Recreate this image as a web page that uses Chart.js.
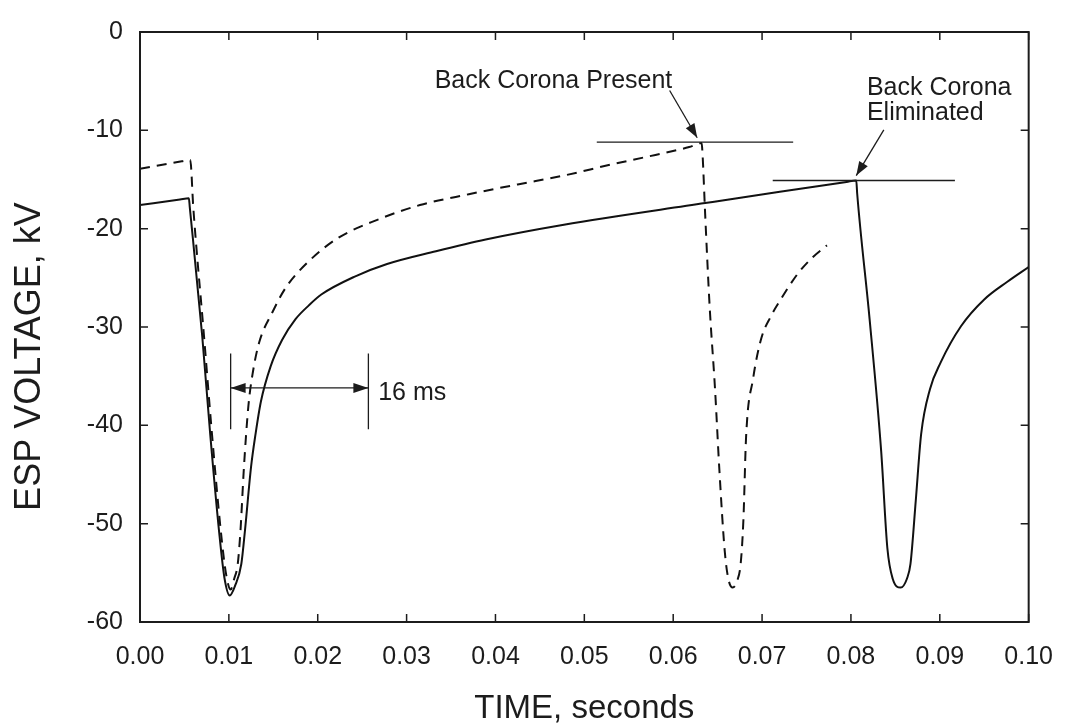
<!DOCTYPE html>
<html>
<head>
<meta charset="utf-8">
<script src="https://cdn.jsdelivr.net/npm/chart.js@4.4.0/dist/chart.umd.min.js"></script>
<style>
html,body{margin:0;padding:0;background:#fff;}
#wrap{width:1073px;height:725px;position:relative;}
</style>
</head>
<body>
<div id="wrap"><canvas id="c" width="1073" height="725"></canvas></div>
<script>
// ---- axis ticks ----
const xTicks = [0, 0.01, 0.02, 0.03, 0.04, 0.05, 0.06, 0.07, 0.08, 0.09, 0.10];
const xTickLabels = ['0.00','0.01','0.02','0.03','0.04','0.05','0.06','0.07','0.08','0.09','0.10'];
const yTicks = [-60, -50, -40, -30, -20, -10, 0];
const yTickLabels = ['-60','-50','-40','-30','-20','-10','0'];

// ---- solid curve (back corona eliminated) ----
const timeSolid = [0, 0.0045, 0.0055, 0.0056, 0.0070, 0.0079, 0.0089, 0.0095, 0.0101, 0.0107, 0.0114, 0.0118, 0.0125, 0.0130, 0.0136, 0.0147, 0.0160, 0.0175, 0.0190, 0.0204, 0.0241, 0.0278, 0.0333, 0.0389, 0.0477, 0.0636, 0.0720, 0.0795, 0.0806, 0.0807, 0.0821, 0.0834, 0.0841, 0.0847, 0.0856, 0.0863, 0.0867, 0.0873, 0.0879, 0.0889, 0.0901, 0.0924, 0.0950, 0.0976, 0.1000];
const voltSolid = [-17.6, -17.03, -16.9, -17.8, -30.9, -40.9, -50.8, -55.5, -57.3, -56.3, -54.1, -50.8, -44.2, -40.9, -37.6, -34.0, -31.3, -29.2, -27.8, -26.7, -24.9, -23.6, -22.3, -21.1, -19.6, -17.4, -16.25, -15.25, -15.1, -16.4, -29.2, -42.6, -52.5, -55.6, -56.5, -55.6, -54.1, -47.6, -40.9, -36.3, -33.6, -29.9, -27.2, -25.4, -23.9];

// ---- dashed curve (back corona present) ----
const timeDashed = [0, 0.0047, 0.00565, 0.0060, 0.0072, 0.0081, 0.0091, 0.0097, 0.0102, 0.0106, 0.0110, 0.0113, 0.0117, 0.0122, 0.0127, 0.0134, 0.0149, 0.0164, 0.0189, 0.0222, 0.0267, 0.0315, 0.0370, 0.0425, 0.0477, 0.0529, 0.0580, 0.0618, 0.0632, 0.0633, 0.0636, 0.0641, 0.0647, 0.0652, 0.0658, 0.0662, 0.0667, 0.0672, 0.0676, 0.0679, 0.0682, 0.0690, 0.0699, 0.0710, 0.0721, 0.0740, 0.0757, 0.0773];
const voltDashed = [-13.9, -13.15, -13.0, -17.9, -30.9, -40.9, -50.8, -55.2, -56.7, -55.6, -54.1, -50.8, -44.2, -38.0, -34.6, -31.6, -28.5, -26.0, -23.4, -21.0, -19.1, -17.6, -16.5, -15.5, -14.6, -13.5, -12.5, -11.7, -11.3, -12.4, -18.6, -27.9, -36.2, -44.6, -52.8, -55.6, -56.5, -55.8, -54.0, -49.6, -41.2, -35.2, -31.2, -28.9, -27.2, -24.6, -22.9, -21.7];

// ---- annotations (data units) ----
const presentLineX = [0.0514, 0.0735];
const presentLineY = -11.2;
const elimLineX = [0.0712, 0.0917];
const elimLineY = -15.1;
const presentArrow = [[0.0596, -5.95], [0.0627, -10.75]];
const elimArrow = [[0.0837, -9.95], [0.0806, -14.6]];
const markerX = [0.0102, 0.0257];
const markerY = [-32.7, -40.4];
const markerArrowY = -36.2;
const presentLabel = {text: 'Back Corona Present', x: 0.0599, y: -5.0};
const elimLabel = {lines: ['Back Corona', 'Eliminated'], x: 0.0818, y: [-5.7, -8.2]};
const msLabel = {text: '16 ms', x: 0.0268, y: -36.7};
const yTitle = {text: 'ESP VOLTAGE, kV', centerValue: -33};

const FONT = "'Liberation Sans', Arial, Helvetica, sans-serif";
const INK = '#1c1c1c';

function toXY(t, v) { return t.map((x, i) => ({x: x, y: v[i]})); }

function arrowHead(ctx, x1, y1, x2, y2, len, half) {
  const a = Math.atan2(y2 - y1, x2 - x1);
  ctx.beginPath();
  ctx.moveTo(x2, y2);
  ctx.lineTo(x2 - len * Math.cos(a) + half * Math.sin(a), y2 - len * Math.sin(a) - half * Math.cos(a));
  ctx.lineTo(x2 - len * Math.cos(a) - half * Math.sin(a), y2 - len * Math.sin(a) + half * Math.cos(a));
  ctx.closePath();
  ctx.fill();
}

const framePlugin = {
  id: 'framePlugin',
  afterDatasetsDraw(chart) {
    const {ctx, chartArea: a, scales: {x, y}} = chart;
    const X = v => x.getPixelForValue(v);
    const Y = v => y.getPixelForValue(v);
    ctx.save();
    ctx.strokeStyle = INK;
    ctx.fillStyle = INK;
    ctx.lineWidth = 2;
    ctx.strokeRect(a.left, a.top, a.right - a.left, a.bottom - a.top);
    ctx.lineWidth = 1.5;
    ctx.beginPath();
    xTicks.forEach(v => {
      const px = X(v);
      ctx.moveTo(px, a.bottom); ctx.lineTo(px, a.bottom - 8);
      ctx.moveTo(px, a.top); ctx.lineTo(px, a.top + 8);
    });
    yTicks.forEach(v => {
      const py = Y(v);
      ctx.moveTo(a.left, py); ctx.lineTo(a.left + 8, py);
      ctx.moveTo(a.right, py); ctx.lineTo(a.right - 8, py);
    });
    ctx.stroke();

    // reference lines
    ctx.lineWidth = 1.3;
    ctx.beginPath();
    ctx.moveTo(X(presentLineX[0]), Y(presentLineY)); ctx.lineTo(X(presentLineX[1]), Y(presentLineY));
    ctx.moveTo(X(elimLineX[0]), Y(elimLineY)); ctx.lineTo(X(elimLineX[1]), Y(elimLineY));
    markerX.forEach(m => { ctx.moveTo(X(m), Y(markerY[0])); ctx.lineTo(X(m), Y(markerY[1])); });
    ctx.stroke();

    // pointer arrows
    [presentArrow, elimArrow].forEach(ar => {
      const x1 = X(ar[0][0]), y1 = Y(ar[0][1]), x2 = X(ar[1][0]), y2 = Y(ar[1][1]);
      ctx.beginPath(); ctx.moveTo(x1, y1); ctx.lineTo(x2, y2); ctx.stroke();
      arrowHead(ctx, x1, y1, x2, y2, 14, 5);
    });

    // 16 ms double arrow
    const mx1 = X(markerX[0]), mx2 = X(markerX[1]), my = Y(markerArrowY);
    ctx.beginPath(); ctx.moveTo(mx1, my); ctx.lineTo(mx2, my); ctx.stroke();
    arrowHead(ctx, mx2, my, mx1, my, 15, 5);
    arrowHead(ctx, mx1, my, mx2, my, 15, 5);

    // texts
    ctx.font = '25px ' + FONT;
    ctx.textBaseline = 'middle';
    ctx.textAlign = 'right';
    ctx.fillText(presentLabel.text, X(presentLabel.x), Y(presentLabel.y));
    ctx.textAlign = 'left';
    elimLabel.lines.forEach((s, i) => ctx.fillText(s, X(elimLabel.x), Y(elimLabel.y[i])));
    ctx.fillText(msLabel.text, X(msLabel.x), Y(msLabel.y));

    // y-axis title
    ctx.translate(30, Y(yTitle.centerValue));
    ctx.rotate(-Math.PI / 2);
    ctx.font = '36px ' + FONT;
    ctx.textAlign = 'center';
    ctx.textBaseline = 'middle';
    ctx.fillText(yTitle.text, 0, 0);
    ctx.restore();
  }
};

new Chart(document.getElementById('c'), {
  type: 'line',
  data: {
    datasets: [
      {
        label: 'Back Corona Eliminated',
        data: toXY(timeSolid, voltSolid),
        borderColor: '#111',
        borderWidth: 2,
        pointRadius: 0,
        fill: false,
        cubicInterpolationMode: 'monotone'
      },
      {
        label: 'Back Corona Present',
        data: toXY(timeDashed, voltDashed),
        borderColor: '#111',
        borderWidth: 2,
        borderDash: [10, 7],
        pointRadius: 0,
        fill: false,
        cubicInterpolationMode: 'monotone'
      }
    ]
  },
  options: {
    responsive: false,
    animation: false,
    devicePixelRatio: 1,
    layout: {padding: {top: 20, right: 31, left: 0, bottom: 0}},
    plugins: {legend: {display: false}, tooltip: {enabled: false}},
    scales: {
      x: {
        type: 'linear',
        min: 0, max: 0.1,
        afterBuildTicks: s => { s.ticks = xTicks.map(v => ({value: v})); },
        afterFit: s => { s.height = 103; },
        grid: {display: false, drawTicks: false},
        border: {display: false},
        ticks: {
          padding: 20,
          color: INK,
          font: {family: FONT, size: 25},
          maxRotation: 0,
          autoSkip: false,
          callback: v => xTickLabels[xTicks.findIndex(t => Math.abs(t - v) < 1e-9)]
        },
        title: {
          display: true,
          text: 'TIME, seconds',
          color: INK,
          font: {family: FONT, size: 33, lineHeight: 1},
          padding: {top: 0, bottom: 0}
        }
      },
      y: {
        type: 'linear',
        min: -60, max: 0,
        afterBuildTicks: s => { s.ticks = yTicks.map(v => ({value: v})); },
        afterFit: s => { s.width = 140; },
        grid: {display: false, drawTicks: false},
        border: {display: false},
        ticks: {
          padding: 17,
          color: INK,
          font: {family: FONT, size: 25},
          autoSkip: false,
          callback: v => yTickLabels[yTicks.findIndex(t => Math.abs(t - v) < 1e-9)]
        },
        title: {display: false}
      }
    }
  },
  plugins: [framePlugin]
});
</script>
</body>
</html>
